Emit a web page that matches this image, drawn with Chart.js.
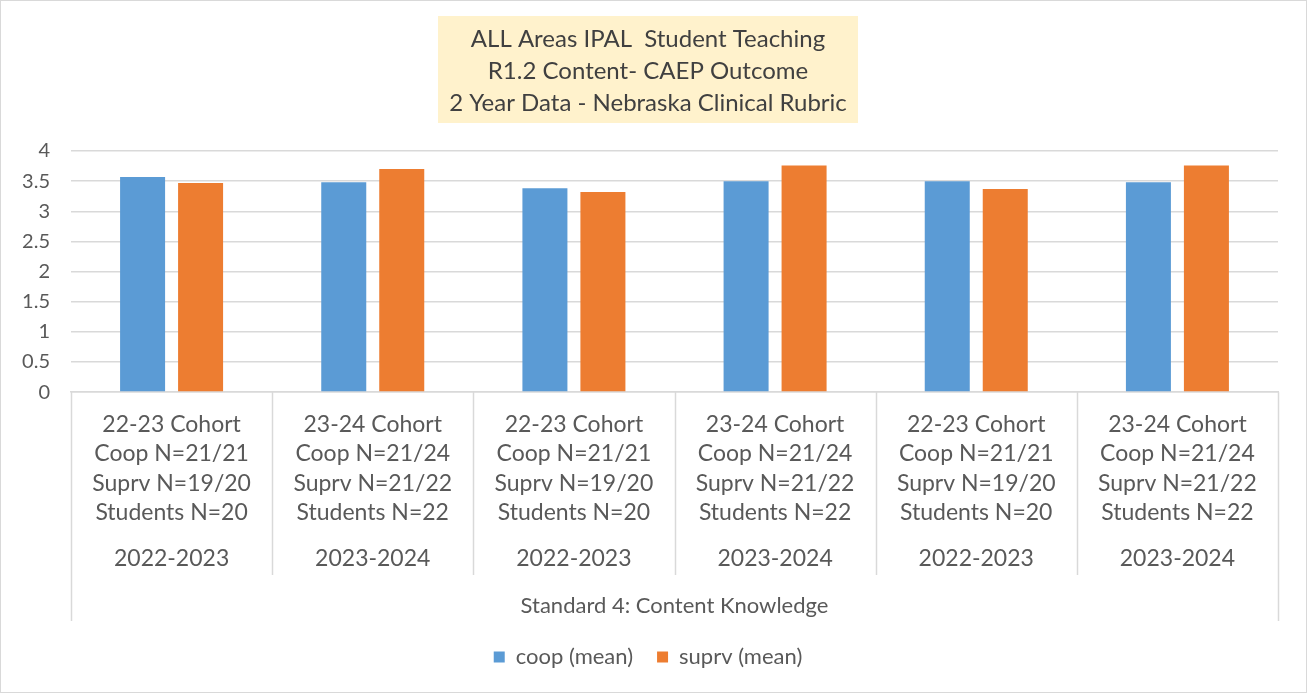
<!DOCTYPE html>
<html>
<head>
<meta charset="utf-8">
<script src="https://cdn.jsdelivr.net/npm/chart.js@4.4.0/dist/chart.umd.min.js"></script>
<style>
  body { margin: 0; background: #fff; }
</style>
</head>
<body>
<canvas id="graficoMedias" width="1307" height="693"></canvas>
<script>
// dados do gráfico
const cohortLabels = [
  ['22-23 Cohort', 'Coop N=21/21', 'Suprv N=19/20', 'Students N=20'],
  ['23-24 Cohort', 'Coop N=21/24', 'Suprv N=21/22', 'Students N=22'],
  ['22-23 Cohort', 'Coop N=21/21', 'Suprv N=19/20', 'Students N=20'],
  ['23-24 Cohort', 'Coop N=21/24', 'Suprv N=21/22', 'Students N=22'],
  ['22-23 Cohort', 'Coop N=21/21', 'Suprv N=19/20', 'Students N=20'],
  ['23-24 Cohort', 'Coop N=21/24', 'Suprv N=21/22', 'Students N=22']
];
const yearLabels = ['2022-2023', '2023-2024', '2022-2023', '2023-2024', '2022-2023', '2023-2024'];
const groupLabel = 'Standard 4: Content Knowledge';
const coopMean = [3.57, 3.48, 3.38, 3.50, 3.50, 3.48];
const suprvMean = [3.47, 3.70, 3.32, 3.76, 3.37, 3.76];
const yMin = 0, yMax = 4, yStep = 0.5;
const titleLines = ['ALL Areas IPAL  Student Teaching', 'R1.2 Content- CAEP Outcome', '2 Year Data - Nebraska Clinical Rubric'];

const fonte = 'Lato, "Open Sans", sans-serif';
const cinzaTexto = '#595959';
const cinzaLinha = '#d9d9d9';

// caixa amarela atrás do título
const caixaTitulo = {
  id: 'caixaTitulo',
  beforeDraw(chart) {
    const t = chart.titleBlock;
    if (!t) return;
    const ctx = chart.ctx;
    const f = t.options.font;
    ctx.save();
    ctx.font = `${f.size}px ${f.family}`;
    let larg = 0;
    titleLines.forEach(l => { larg = Math.max(larg, ctx.measureText(l).width); });
    const cx = (t.left + t.right) / 2;
    const lh = f.size * f.lineHeight;
    const topo = t.top + t.options.padding.top - 7;
    const alt = titleLines.length * lh + 11;
    ctx.fillStyle = '#FFF2CC';
    ctx.fillRect(Math.round(cx - larg / 2 - 11), topo, Math.round(larg + 22), alt);
    ctx.restore();
  }
};

// linhas separadoras do eixo de categorias + borda
const separadores = {
  id: 'separadores',
  afterDraw(chart) {
    const ctx = chart.ctx;
    const sx = chart.scales.x, s2 = chart.scales.x2;
    const n = cohortLabels.length;
    ctx.save();
    ctx.strokeStyle = cinzaLinha;
    ctx.lineWidth = 1.5;
    for (let i = 0; i <= n; i++) {
      const px = Math.round(sx.getPixelForValue(i - 0.5)) + 0.5;
      const fim = (i === 0 || i === n) ? s2.bottom - 1 : s2.bottom - 47;
      ctx.beginPath();
      ctx.moveTo(px, sx.top);
      ctx.lineTo(px, fim);
      ctx.stroke();
    }
    ctx.lineWidth = 1;
    ctx.strokeRect(0.5, 0.5, chart.width - 1, chart.height - 1);
    ctx.restore();
  }
};

const ctx = document.getElementById('graficoMedias').getContext('2d');

const meuGrafico = new Chart(ctx, {
  type: 'bar',
  data: {
    labels: cohortLabels,
    datasets: [
      {
        label: 'coop (mean)',
        data: coopMean,
        backgroundColor: '#5B9BD5',
        categoryPercentage: 0.5766,
        barPercentage: 0.776
      },
      {
        label: 'suprv (mean)',
        data: suprvMean,
        backgroundColor: '#ED7D31',
        categoryPercentage: 0.5766,
        barPercentage: 0.776
      }
    ]
  },
  options: {
    responsive: false,
    devicePixelRatio: 1,
    animation: false,
    layout: { padding: { left: 18, right: 29, top: 0, bottom: 15 } },
    plugins: {
      title: {
        display: true,
        text: titleLines,
        color: '#404040',
        font: { family: fonte, size: 24, weight: 'normal', lineHeight: 32 / 24 },
        padding: { top: 23, bottom: 32 }
      },
      legend: {
        position: 'bottom',
        labels: {
          boxWidth: 11,
          boxHeight: 11,
          padding: 24,
          color: cinzaTexto,
          font: { family: fonte, size: 22 }
        }
      },
      tooltip: { enabled: false }
    },
    scales: {
      y: {
        min: yMin,
        max: yMax,
        ticks: {
          stepSize: yStep,
          padding: 21,
          color: cinzaTexto,
          font: { family: fonte, size: 20 },
          callback: v => String(v)
        },
        grid: { color: cinzaLinha, lineWidth: 1.5, drawTicks: false },
        border: { display: false },
        afterFit(s) { s.width = 53; }
      },
      x: {
        grid: { display: false, drawTicks: false },
        border: { display: true, color: cinzaLinha, width: 1.5 },
        ticks: {
          autoSkip: false,
          maxRotation: 0,
          padding: 18,
          color: cinzaTexto,
          font: { family: fonte, size: 23, lineHeight: 29.3 / 23 }
        }
      },
      x2: {
        type: 'category',
        position: 'bottom',
        labels: yearLabels,
        offset: true,
        grid: { display: false, drawTicks: false },
        border: { display: false },
        ticks: {
          autoSkip: false,
          maxRotation: 0,
          padding: -1,
          color: cinzaTexto,
          font: { family: fonte, size: 23, lineHeight: 29.3 / 23 }
        },
        title: {
          display: true,
          text: groupLabel,
          color: cinzaTexto,
          font: { family: fonte, size: 22, lineHeight: 1.2 },
          padding: { top: 20, bottom: 3 }
        }
      }
    }
  },
  plugins: [caixaTitulo, separadores]
});
</script>
</body>
</html>
